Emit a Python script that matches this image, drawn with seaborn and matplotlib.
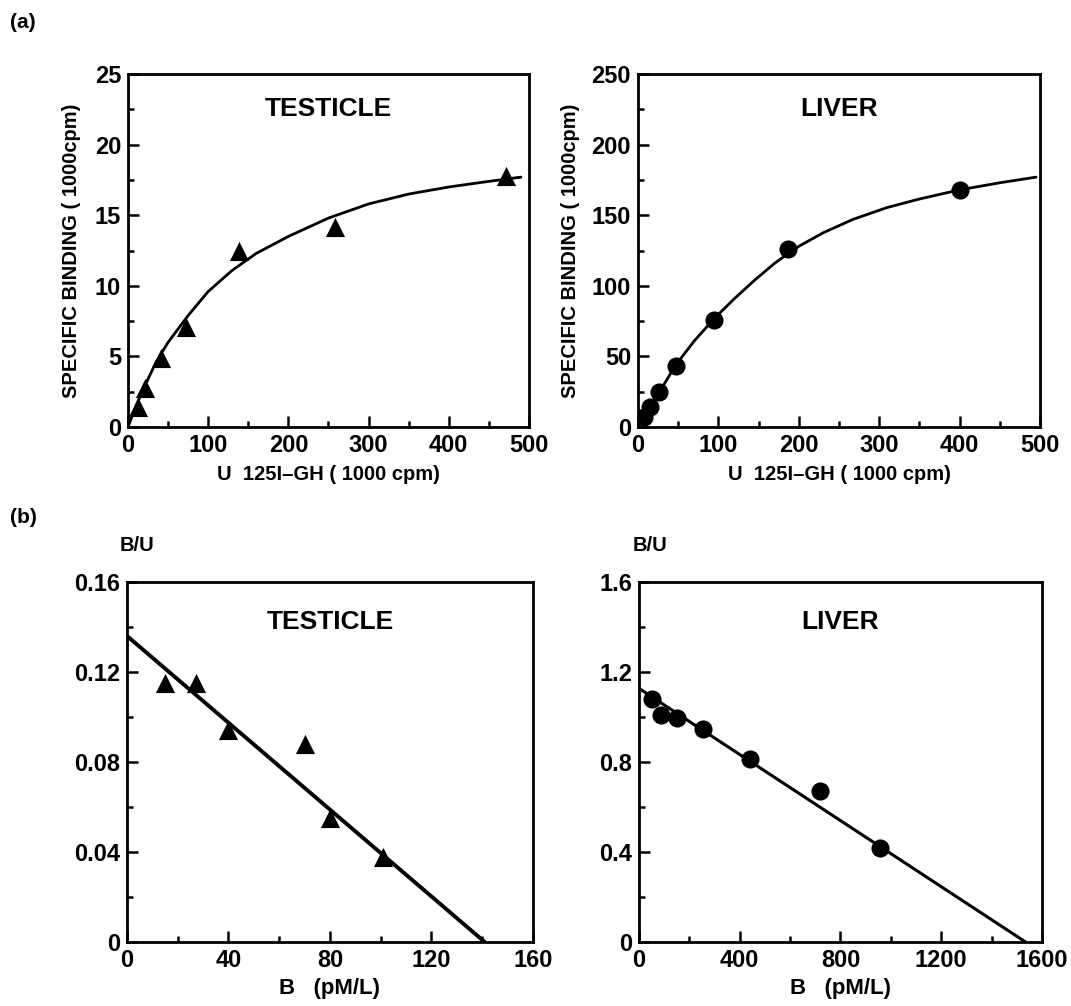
import matplotlib
matplotlib.use("Agg")
import matplotlib.pyplot as plt
import seaborn as sns
import pandas as pd
from matplotlib.ticker import MultipleLocator

# ---- data ----
# (a) saturation curves
testis_u = [12, 21, 41, 72, 138, 258, 471]
testis_b = [1.4, 2.8, 4.9, 7.1, 12.5, 14.2, 17.8]
testis_curve_x = [0, 10, 20, 35, 50, 75, 100, 130, 160, 200, 250, 300, 350, 400, 450, 490]
testis_curve_y = [0, 1.5, 2.8, 4.6, 6.0, 7.9, 9.6, 11.1, 12.3, 13.5, 14.8, 15.8, 16.5, 17.0, 17.4, 17.7]

liver_u = [8, 15, 26, 47, 95, 187, 400]
liver_b = [7, 14, 25, 43, 76, 126, 168]
liver_curve_x = [0, 10, 20, 30, 47, 70, 95, 120, 145, 170, 187, 200, 230, 267, 310, 350, 400, 450, 495]
liver_curve_y = [0, 9, 18.5, 28, 44, 61, 77, 91, 104, 116, 123, 128, 137.5, 147, 155.5, 161.5, 168, 173, 177]

# (b) Scatchard plots
testis_sc_b = [15, 27, 40, 70, 80, 101]
testis_sc_bu = [0.115, 0.115, 0.094, 0.088, 0.055, 0.038]
testis_line_x = [0, 141]
testis_line_y = [0.136, 0]

liver_sc_b = [53, 89, 151, 254, 439, 717, 957]
liver_sc_bu = [1.078, 1.008, 0.997, 0.948, 0.814, 0.673, 0.420]
liver_line_x = [0, 1535]
liver_line_y = [1.127, 0]

sns.set_style("ticks")
plt.rcParams['font.family'] = ['Liberation Sans', 'DejaVu Sans']
plt.rcParams['font.weight'] = 'bold'
for k in ['text.color', 'axes.labelcolor', 'xtick.color', 'ytick.color']:
    plt.rcParams[k] = 'black'

fig = plt.figure(figsize=(10.71, 10.06), dpi=100)
ax1 = fig.add_axes([0.1195, 0.5755, 0.3744, 0.3509])
ax2 = fig.add_axes([0.5957, 0.5755, 0.3754, 0.3509])
ax3 = fig.add_axes([0.1186, 0.0636, 0.379, 0.3579])
ax4 = fig.add_axes([0.5966, 0.0636, 0.3763, 0.3579])

FS_TICK = 17
FS_LAB = 14.5
FS_TITLE = 19


def style(ax, xmaj, xmin, ymaj, ymin):
    for s in ax.spines.values():
        s.set_linewidth(2.0)
        s.set_color('black')
    ax.xaxis.set_major_locator(MultipleLocator(xmaj))
    ax.xaxis.set_minor_locator(MultipleLocator(xmin))
    ax.yaxis.set_major_locator(MultipleLocator(ymaj))
    ax.yaxis.set_minor_locator(MultipleLocator(ymin))
    ax.tick_params(which='major', direction='in', length=8, width=1.8,
                   labelsize=FS_TICK, top=False, right=False, pad=5)
    ax.tick_params(which='minor', direction='in', length=4.5, width=1.8,
                   top=False, right=False)
    for t in ax.get_xticklabels() + ax.get_yticklabels():
        t.set_fontweight('bold')


# (a) TESTICLE
df = pd.DataFrame({'u': testis_u, 'b': testis_b})
sns.lineplot(x=testis_curve_x, y=testis_curve_y, ax=ax1, color='black', lw=2.0)
sns.scatterplot(data=df, x='u', y='b', ax=ax1, marker='^', s=190, color='black',
                edgecolor='black', linewidth=0, zorder=3)
ax1.set_xlim(0, 500)
ax1.set_ylim(0, 25)
style(ax1, 100, 50, 5, 2.5)
ax1.set_xlabel('U  125I\u2013GH ( 1000 cpm)', fontsize=FS_LAB, fontweight='bold', labelpad=6)
ax1.set_ylabel('SPECIFIC BINDING ( 1000cpm)', fontsize=FS_LAB, fontweight='bold', labelpad=10)
ax1.text(0.5, 0.9, 'TESTICLE', transform=ax1.transAxes, ha='center', va='center',
         fontsize=FS_TITLE, fontweight='bold')

# (a) LIVER
df = pd.DataFrame({'u': liver_u, 'b': liver_b})
sns.lineplot(x=liver_curve_x, y=liver_curve_y, ax=ax2, color='black', lw=2.0)
sns.scatterplot(data=df, x='u', y='b', ax=ax2, marker='o', s=170, color='black',
                edgecolor='black', linewidth=0, zorder=3)
ax2.set_xlim(0, 500)
ax2.set_ylim(0, 250)
style(ax2, 100, 50, 50, 25)
ax2.set_xlabel('U  125I\u2013GH ( 1000 cpm)', fontsize=FS_LAB, fontweight='bold', labelpad=6)
ax2.set_ylabel('SPECIFIC BINDING ( 1000cpm)', fontsize=FS_LAB, fontweight='bold', labelpad=8)
ax2.text(0.5, 0.9, 'LIVER', transform=ax2.transAxes, ha='center', va='center',
         fontsize=FS_TITLE, fontweight='bold')

# (b) TESTICLE Scatchard
df = pd.DataFrame({'b': testis_sc_b, 'bu': testis_sc_bu})
sns.lineplot(x=testis_line_x, y=testis_line_y, ax=ax3, color='black', lw=2.8)
sns.scatterplot(data=df, x='b', y='bu', ax=ax3, marker='^', s=190, color='black',
                edgecolor='black', linewidth=0, zorder=3)
ax3.set_xlim(0, 160)
ax3.set_ylim(0, 0.16)
style(ax3, 40, 20, 0.04, 0.02)
ax3.set_yticks([0, 0.04, 0.08, 0.12, 0.16])
ax3.set_yticklabels(['0', '0.04', '0.08', '0.12', '0.16'], fontweight='bold')
ax3.set_xlabel('B   (pM/L)', fontsize=FS_TICK - 1, fontweight='bold', labelpad=4)
ax3.set_ylabel('')
ax3.text(0.025, 1.10, 'B/U', transform=ax3.transAxes, ha='center', va='center',
         fontsize=FS_LAB, fontweight='bold')
ax3.text(0.5, 0.89, 'TESTICLE', transform=ax3.transAxes, ha='center', va='center',
         fontsize=FS_TITLE, fontweight='bold')

# (b) LIVER Scatchard
df = pd.DataFrame({'b': liver_sc_b, 'bu': liver_sc_bu})
sns.lineplot(x=liver_line_x, y=liver_line_y, ax=ax4, color='black', lw=2.2)
sns.scatterplot(data=df, x='b', y='bu', ax=ax4, marker='o', s=170, color='black',
                edgecolor='black', linewidth=0, zorder=3)
ax4.set_xlim(0, 1600)
ax4.set_ylim(0, 1.6)
style(ax4, 400, 200, 0.4, 0.2)
ax4.set_yticks([0, 0.4, 0.8, 1.2, 1.6])
ax4.set_yticklabels(['0', '0.4', '0.8', '1.2', '1.6'], fontweight='bold')
ax4.set_xlabel('B   (pM/L)', fontsize=FS_TICK - 1, fontweight='bold', labelpad=4)
ax4.set_ylabel('')
ax4.text(0.027, 1.10, 'B/U', transform=ax4.transAxes, ha='center', va='center',
         fontsize=FS_LAB, fontweight='bold')
ax4.text(0.5, 0.89, 'LIVER', transform=ax4.transAxes, ha='center', va='center',
         fontsize=FS_TITLE, fontweight='bold')

# panel labels
fig.text(0.0215, 0.978, '(a)', fontsize=15, fontweight='bold', ha='center', va='center')
fig.text(0.0215, 0.486, '(b)', fontsize=15, fontweight='bold', ha='center', va='center')

fig.savefig('out.png', dpi=100)
